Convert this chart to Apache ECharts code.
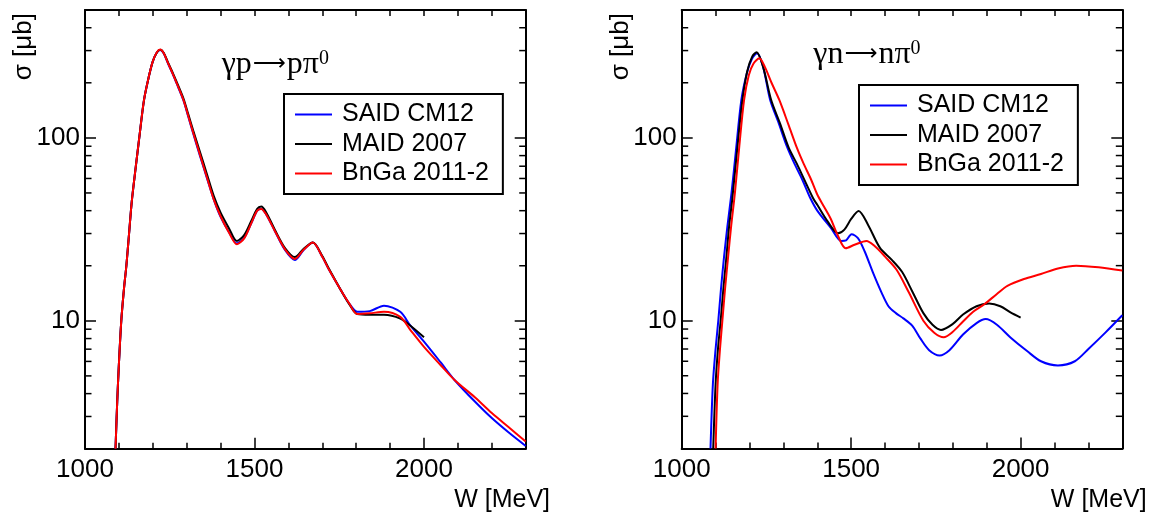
<!DOCTYPE html>
<html><head><meta charset="utf-8">
<script src="https://cdn.jsdelivr.net/npm/echarts@6/dist/echarts.min.js"></script>
<style>html,body{margin:0;padding:0;background:#fff}#c{width:1152px;height:517px}</style>
</head><body><div id="c"></div><script>
// ---------- data ----------
const seriesNames = ['SAID CM12', 'MAID 2007', 'BnGa 2011-2'];
const seriesColors = ['#0000ff', '#000000', '#ff0000'];
const panelTitles = [['γp', '⟶', 'pπ', '0'], ['γn', '⟶', 'nπ', '0']];
const xTickLabels = [1000, 1500, 2000];
const yTickLabels = [10, 100];
const yMinorTicks = [3, 4, 5, 6, 7, 8, 9, 20, 30, 40, 50, 60, 70, 80, 90, 200, 300, 400];

// gamma p -> p pi0
const pSaidW = [1090,1095,1100,1107,1115,1122,1130,1138,1150,1160,1174,1188,1200,1212,1222,1232,1245,1258,1270,1290,1305,1319,1339,1360,1380,1400,1425,1448,1470,1490,1508,1520,1535,1560,1590,1619,1645,1672,1700,1720,1754,1780,1803,1840,1882,1930,1960,2000,2050,2090,2150,2200,2250,2300];
const pSaidS = [2.0,3.6,5.8,10,15,20,30,45,70,100,161,215,262,293,302,290,255,225,199,161,130,106,80,60,46,37,30.5,26.5,28.5,34,40,41,38,31,24.4,21.5,24.4,26.8,22.4,19.0,14.8,12.4,11.2,11.3,12.1,11.2,9.4,7.7,5.9,4.75,3.62,2.94,2.45,2.07];
const pMaidW = [1090,1095,1100,1107,1115,1122,1130,1138,1150,1160,1174,1188,1200,1212,1222,1232,1245,1258,1270,1290,1305,1319,1339,1360,1380,1400,1425,1448,1470,1490,1508,1520,1535,1560,1590,1619,1645,1672,1700,1720,1754,1780,1803,1840,1882,1930,1960,2000];
const pMaidS = [2.0,3.6,5.8,10,15,20,30,45,70,100,161,215,262,293,303,292,258,229,203,165,134,110,84,63,48,39,32,27.3,29.5,35,41,42.1,39,31.5,25,22.3,24.8,26.8,22.6,19.2,14.8,12.3,10.9,10.8,10.8,10.3,9.4,8.13];
const pBngaW = [1090,1095,1100,1107,1115,1122,1130,1138,1150,1160,1174,1188,1200,1212,1222,1232,1245,1258,1270,1290,1305,1319,1339,1360,1380,1400,1425,1448,1470,1490,1508,1520,1535,1560,1590,1619,1645,1672,1700,1720,1754,1780,1803,1840,1882,1930,1960,2000,2050,2090,2150,2200,2250,2300];
const pBngaS = [2.0,3.6,5.8,10,15,20,30,45,70,100,161,215,262,294,304,291,256,226,200,162,131,107,81,60.5,46,37.3,30.3,26.2,28.3,34,40,40.9,38,31,24.6,21.8,24.5,26.8,22.4,19.0,14.8,12.4,10.9,11.0,11.2,10.5,8.9,7.2,5.7,4.75,3.82,3.13,2.62,2.19];

// gamma n -> n pi0
const nSaidW = [1085,1092,1100,1108,1116,1125,1135,1147,1160,1176,1192,1207,1222,1240,1261,1285,1310,1333,1356,1379,1400,1440,1471,1485,1501,1520,1540,1565,1590,1610,1632,1654,1680,1704,1730,1761,1790,1830,1870,1897,1930,1970,2020,2060,2110,2160,2200,2250,2300];
const nSaidS = [2.0,4.5,7.0,10,15,22.4,33,50,85,161,225,270,290,245,161,122,90,72,59,47,40,32.2,27.3,27.5,29.7,28.3,23.9,18.2,14.2,12.0,11.0,10.3,9.4,8.0,6.9,6.46,6.9,8.4,9.7,10.2,9.5,8.1,6.8,6.0,5.69,6.0,7.0,8.6,10.7];
const nMaidW = [1093,1100,1107,1115,1123,1132,1140,1149,1162,1178,1193,1208,1221,1240,1264,1290,1316,1340,1360,1387,1400,1430,1461,1480,1500,1522,1550,1585,1620,1650,1680,1713,1740,1765,1800,1830,1870,1907,1940,1970,2000];
const nMaidS = [2.0,4.5,7.0,10,15,22.4,33,45.8,80,155,230,278,294,245,161,120,88,72,60,47,43,35,30.1,31.5,36,39.8,33.4,25,21.5,18.5,14.5,11.0,9.5,8.9,9.6,10.8,12.0,12.4,12.0,11.1,10.4];
const nBngaW = [1100,1106,1113,1120,1128,1137,1146,1157,1170,1184,1198,1212,1229,1245,1265,1288,1315,1340,1360,1382,1400,1420,1440,1460,1484,1510,1545,1570,1600,1634,1670,1713,1745,1773,1800,1830,1860,1893,1930,1961,2010,2060,2110,2164,2230,2300];
const nBngaS = [2.0,4.5,7.0,10,15,22.4,33,50,90,161,220,255,272,245,200,161,118,88,72,59,49,42,36,29.4,24.9,26.0,27.3,25.5,22.4,19.0,14.3,10.0,8.6,8.12,8.7,9.9,11.2,12.3,14.0,15.5,16.9,18.0,19.3,20.0,19.6,18.8];

// ---------- chart ----------
const zip = (w, s) => w.map((v, i) => [v, s[i]]);
const panels = [
  [zip(pSaidW, pSaidS), zip(pMaidW, pMaidS), zip(pBngaW, pBngaS)],
  [zip(nSaidW, nSaidS), zip(nMaidW, nMaidS), zip(nBngaW, nBngaS)]
];
const XMIN = 1000, XMAX = 2300, YMIN = 2, YMAX = 500;
const FONT = 'Liberation Sans';
const grids = [
  { left: 85, top: 10, width: 440.7, height: 438.7, outerBoundsMode: 'none' },
  { left: 681.7, top: 10, width: 440.6, height: 438.5, outerBoundsMode: 'none' }
];
const axLine = { show: true, onZero: false, lineStyle: { color: '#000', width: 2 } };
const tickStyle = { color: '#000', width: 1.5 };

const xAxis = [], yAxis = [], series = [];
grids.forEach((g, gi) => {
  xAxis.push({
    gridIndex: gi, type: 'value', position: 'bottom', min: XMIN, max: XMAX, interval: 500,
    axisLine: axLine, splitLine: { show: false },
    axisTick: { show: true, inside: true, length: 11, lineStyle: tickStyle },
    axisLabel: { show: true, margin: 8, fontSize: 26, fontFamily: FONT, color: '#000',
      formatter: v => xTickLabels.includes(Math.round(v)) ? String(Math.round(v)) : '' }
  });
  xAxis.push({
    gridIndex: gi, type: 'value', position: 'bottom', min: XMIN, max: XMAX, interval: 100,
    axisLine: { show: false }, splitLine: { show: false }, axisLabel: { show: false },
    axisTick: { show: true, inside: true, length: 6, lineStyle: tickStyle }
  });
  xAxis.push({
    gridIndex: gi, type: 'value', position: 'top', min: XMIN, max: XMAX, interval: 100,
    axisLine: axLine, splitLine: { show: false }, axisLabel: { show: false },
    axisTick: { show: true, inside: true, length: 6, lineStyle: tickStyle }
  });
  yAxis.push({
    gridIndex: gi, type: 'log', logBase: 10, position: 'left', min: YMIN, max: YMAX,
    axisLine: axLine, splitLine: { show: false }, minorTick: { show: false },
    axisTick: { show: true, inside: true, length: 11, lineStyle: tickStyle },
    axisLabel: { show: true, margin: 5, fontSize: 26, fontFamily: FONT, color: '#000',
      formatter: v => yTickLabels.includes(Math.round(v)) ? String(Math.round(v)) : '' }
  });
  yAxis.push({
    gridIndex: gi, type: 'log', logBase: 10, position: 'right', min: YMIN, max: YMAX,
    axisLine: axLine, splitLine: { show: false }, axisLabel: { show: false },
    axisTick: { show: true, inside: true, length: 11, lineStyle: tickStyle }
  });
  panels[gi].forEach((data, si) => {
    series.push({
      type: 'line', name: seriesNames[si], xAxisIndex: gi * 3, yAxisIndex: gi * 2,
      data: data, symbol: 'none', showSymbol: false, smooth: 0.3, clip: true,
      lineStyle: { color: seriesColors[si], width: 2 }, itemStyle: { color: seriesColors[si] },
      z: si === 2 ? 4 : (si === 1 ? 3 : 2)
    });
  });
  series.push({
    type: 'custom', xAxisIndex: gi * 3, yAxisIndex: gi * 2, silent: true, clip: false,
    data: yMinorTicks.map(v => [XMIN, v]),
    renderItem: (params, api) => {
      const cs = params.coordSys;
      const y = api.coord([api.value(0), api.value(1)])[1];
      const st = { stroke: '#000', lineWidth: 1.5 };
      return { type: 'group', children: [
        { type: 'line', shape: { x1: cs.x, y1: y, x2: cs.x + 6.5, y2: y }, style: st },
        { type: 'line', shape: { x1: cs.x + cs.width, y1: y, x2: cs.x + cs.width - 6.5, y2: y }, style: st }
      ] };
    }
  });
});

const legendBase = {
  orient: 'vertical', data: seriesNames, borderColor: '#000', borderWidth: 2,
  backgroundColor: '#fff', padding: [8, 14, 8, 11], itemWidth: 37, itemHeight: 2.2, itemGap: 4.5,
  icon: 'rect', selectedMode: false,
  textStyle: { fontSize: 25, fontFamily: FONT, color: '#000', lineHeight: 25, padding: [0, 0, 0, 5] }
};
const legend = [
  Object.assign({}, legendBase, { left: 284, top: 94 }),
  Object.assign({}, legendBase, { left: 859, top: 85 })
];

const titleText = (x, y, t) => ({
  type: 'text', x: x, y: y, z: 10,
  style: { text: '{m|' + t[0] + '}{a|' + t[1] + '}{m|' + t[2] + '}{s|' + t[3] + '}', fill: '#000', align: 'left', verticalAlign: 'top',
    rich: { m: { fontSize: 32, fontFamily: 'Liberation Serif', lineHeight: 32 },
            a: { fontSize: 23, fontFamily: 'DejaVu Sans', lineHeight: 32, padding: [0, 1, 0, 1] },
            s: { fontSize: 20, fontFamily: 'Liberation Serif', lineHeight: 20, verticalAlign: 'top' } } }
});
const yName = (x, y) => ({
  type: 'text', x: x, y: y, rotation: Math.PI / 2, z: 10,
  style: { text: 'σ [μb]', fontSize: 26, fontFamily: FONT, fill: '#000', align: 'right', verticalAlign: 'middle' }
});
const xName = (x, y) => ({
  type: 'text', x: x, y: y, z: 10,
  style: { text: 'W [MeV]', fontSize: 25, fontFamily: FONT, fill: '#000', align: 'right', verticalAlign: 'middle' }
});

const chart = echarts.init(document.getElementById('c'), null, { renderer: 'canvas' });
chart.setOption({
  animation: false, backgroundColor: '#fff',
  grid: grids, xAxis: xAxis, yAxis: yAxis, series: series, legend: legend,
  graphic: [
    titleText(221.7, 48.4, panelTitles[0]), titleText(813.3, 38.4, panelTitles[1]),
    yName(23.5, 13), yName(621, 13),
    xName(550, 500), xName(1146.7, 500)
  ]
});
</script></body></html>
